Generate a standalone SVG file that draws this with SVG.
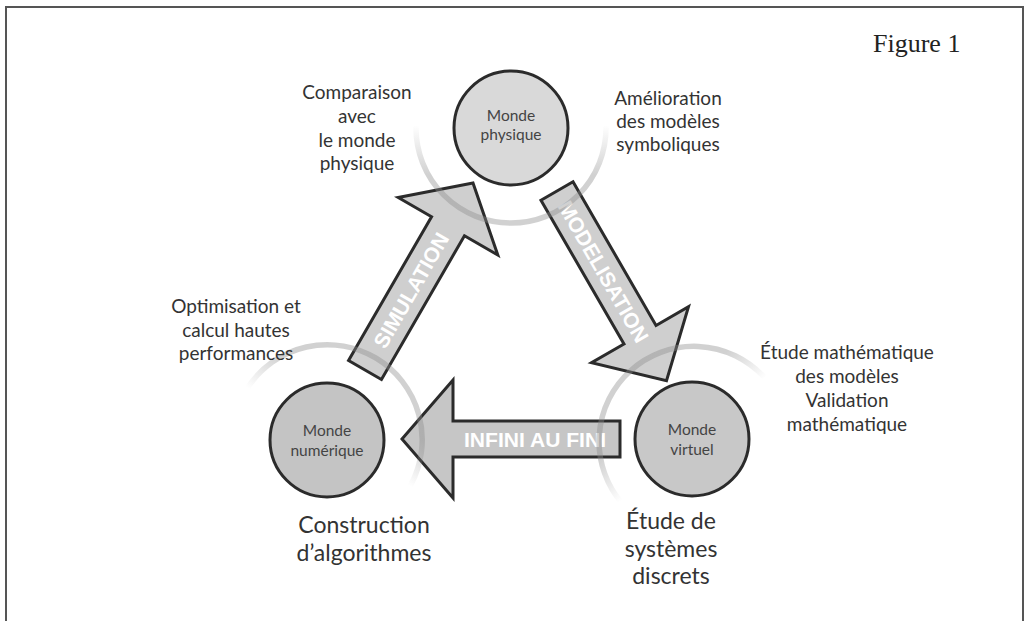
<svg xmlns="http://www.w3.org/2000/svg" width="1025" height="621" viewBox="0 0 1025 621">
<style>
.lbl{font-family:Lato,"Open Sans","DejaVu Sans",sans-serif;fill:#333;text-anchor:middle}
.l18{font-size:19px}
.l23{font-size:23px}
.in{font-family:Lato,"Open Sans","DejaVu Sans",sans-serif;font-size:15.5px;fill:#444;text-anchor:middle}
.circ{stroke:#2b2b2b;stroke-width:3}
.arr{fill:#cfcfcf;stroke:#2b2b2b;stroke-width:3;stroke-linejoin:miter}
.at{font-family:"Liberation Sans",Arial,sans-serif;font-weight:bold;font-size:21px;fill:#fff;text-anchor:middle}
.arc{fill:none;stroke-width:5.5;stroke-linecap:round}
</style>
<defs>
<linearGradient id="gTop" gradientUnits="userSpaceOnUse" x1="510" y1="125" x2="510" y2="175">
<stop offset="0" stop-color="#8c8c8c" stop-opacity="0"/>
<stop offset="1" stop-color="#8c8c8c" stop-opacity="0.4"/>
</linearGradient>
<linearGradient id="gNum" gradientUnits="userSpaceOnUse" x1="329" y1="437" x2="352" y2="399">
<stop offset="0" stop-color="#8c8c8c" stop-opacity="0"/>
<stop offset="1" stop-color="#8c8c8c" stop-opacity="0.4"/>
</linearGradient>
<linearGradient id="gVir" gradientUnits="userSpaceOnUse" x1="692" y1="440" x2="663" y2="406">
<stop offset="0" stop-color="#8c8c8c" stop-opacity="0"/>
<stop offset="1" stop-color="#8c8c8c" stop-opacity="0.4"/>
</linearGradient>
</defs>
<rect width="1025" height="621" fill="#fff"/>
<path d="M6,622 V7 H1023 V622" fill="none" stroke="#555" stroke-width="2"/>
<text x="873" y="52" font-family="Liberation Serif,'Times New Roman',serif" font-size="26" fill="#222">Figure 1</text>

<g id="connectors">
<g id="arrow-simulation" transform="translate(365,370) rotate(-60)">
<polygon class="arr" points="0,-19 166,-19 166,-57.5 216,0 166,57.5 166,19 0,19"/>
<text class="at" x="92" y="7.5">SIMULATION</text>
</g>
<g id="arrow-modelisation" transform="translate(557,191) rotate(60)">
<polygon class="arr" points="0,-18.5 166,-18.5 166,-56 219,0 166,56 166,18.5 0,18.5"/>
<text class="at" x="93" y="7.5">MODELISATION</text>
</g>
<g id="arrow-infini">
<polygon class="arr" style="fill:#c6c6c6" points="620,421 453,421 453,380 402,439 453,498 453,457 620,457"/>
<text class="at" x="535" y="447" textLength="142" lengthAdjust="spacingAndGlyphs">INFINI AU FINI</text>
</g>
</g>

<g id="arcs">
<path class="arc" stroke="url(#gTop)" d="M416,128 A95,95 0 0 0 606,128"/>
<path class="arc" stroke="url(#gNum)" d="M248.2,386.9 A95,95 0 0 1 410.9,484.6"/>
<path class="arc" stroke="url(#gVir)" d="M763.7,376.7 A95,95 0 0 0 622.5,503.8"/>
</g>

<g id="node-physique">
<circle class="circ" cx="511" cy="128" r="57" fill="#d9d9d9"/>
<text class="in" x="511" y="121">Monde</text>
<text class="in" x="511" y="140">physique</text>
</g>
<g id="node-numerique">
<circle class="circ" cx="327" cy="440" r="57" fill="#c4c4c4"/>
<text class="in" x="327" y="436">Monde</text>
<text class="in" x="327" y="456">numérique</text>
</g>
<g id="node-virtuel">
<circle class="circ" cx="692" cy="439" r="57" fill="#c8c8c8"/>
<text class="in" x="692" y="435">Monde</text>
<text class="in" x="692" y="455">virtuel</text>
</g>

<g id="label-comparaison" class="lbl l18">
<text x="357" y="99">Comparaison</text>
<text x="357" y="123">avec</text>
<text x="357" y="147">le monde</text>
<text x="357" y="170">physique</text>
</g>
<g id="label-amelioration" class="lbl l18">
<text x="668" y="105">Amélioration</text>
<text x="668" y="128">des modèles</text>
<text x="668" y="151">symboliques</text>
</g>
<g id="label-optimisation" class="lbl l18">
<text x="236" y="313">Optimisation et</text>
<text x="236" y="337">calcul hautes</text>
<text x="236" y="360">performances</text>
</g>
<g id="label-etude-math" class="lbl l18">
<text x="847" y="359">Étude mathématique</text>
<text x="847" y="383">des modèles</text>
<text x="847" y="407">Validation</text>
<text x="847" y="431">mathématique</text>
</g>
<g id="label-construction" class="lbl l23">
<text x="364" y="533">Construction</text>
<text x="364" y="561">d’algorithmes</text>
</g>
<g id="label-etude-discrets" class="lbl l23">
<text x="671" y="529">Étude de</text>
<text x="671" y="557">systèmes</text>
<text x="671" y="584">discrets</text>
</g>
</svg>
